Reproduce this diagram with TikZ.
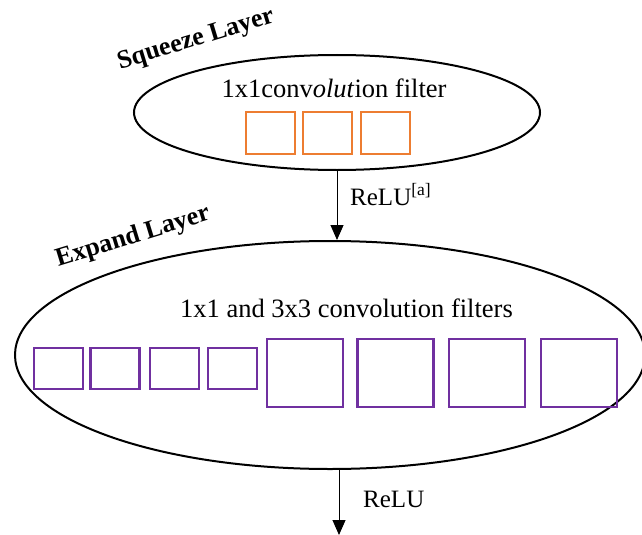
\documentclass[tikz,border=0pt]{standalone}
\usepackage{fontspec}
\setmainfont{Liberation Serif}
\usetikzlibrary{shapes.geometric,arrows.meta}
\definecolor{sqorange}{HTML}{ED7D31}
\definecolor{expurple}{HTML}{7030A0}
\tikzset{
  layer/.style={ellipse, draw=black, line width=2pt, inner sep=0pt},
  sqbox/.style={draw=sqorange, line width=2.3pt, minimum width=49pt, minimum height=42pt, inner sep=0pt},
  smallbox/.style={draw=expurple, line width=2.3pt, minimum width=49pt, minimum height=41pt, inner sep=0pt},
  bigbox/.style={draw=expurple, line width=2.3pt, minimum width=76pt, minimum height=68pt, inner sep=0pt},
  flow/.style={line width=1pt, -{Triangle[length=15pt,width=13pt]}},
  txt/.style={font=\fontsize{26.5}{31}\selectfont, inner sep=0pt},
  relu/.style={font=\fontsize{25}{30}\selectfont, inner sep=0pt},
  title/.style={font=\fontsize{26}{30}\selectfont\bfseries, inner sep=0pt, rotate=17},
}
\begin{document}
\begin{tikzpicture}[x=1pt,y=-1pt]
\useasboundingbox (0,0) rectangle (642,535);
\clip (0,0) rectangle (642,535);
\node[layer, minimum width=406pt, minimum height=115pt] (sq) at (337,112.5) {};
\node[layer, minimum width=630pt, minimum height=228pt] (ex) at (330,355) {};
\node[title] (sqt) at (196,40) {Squeeze Layer};
\node[title] (ext) at (133,237) {Expand Layer};
\node[txt, anchor=base] (sqlab) at (334,97) {1x1conv\textit{olut}ion filter};
\node[txt, anchor=base] (exlab) at (346.5,317) {1x1 and 3x3 convolution filters};
\node[sqbox] (o1) at (270.5,133) {};
\node[sqbox] (o2) at (327.5,133) {};
\node[sqbox] (o3) at (385.5,133) {};
\node[smallbox] (p1) at (58.5,368.5) {};
\node[smallbox] (p2) at (115,368.5) {};
\node[smallbox] (p3) at (174.5,368.5) {};
\node[smallbox] (p4) at (232.5,368.5) {};
\node[bigbox] (q1) at (305,373) {};
\node[bigbox] (q2) at (395.5,373) {};
\node[bigbox] (q3) at (487,373) {};
\node[bigbox] (q4) at (579,373) {};
\draw[flow] (sq.south) -- (sq.south |- ex.north);
\coordinate (out) at (339,535);
\draw[flow] (out |- ex.south) -- (out);
\node[relu, anchor=base west] (relu1) at (350,205) {ReLU\textsuperscript{[a]}};
\node[relu, anchor=base west] (relu2) at (363,507) {ReLU};
\end{tikzpicture}
\end{document}
